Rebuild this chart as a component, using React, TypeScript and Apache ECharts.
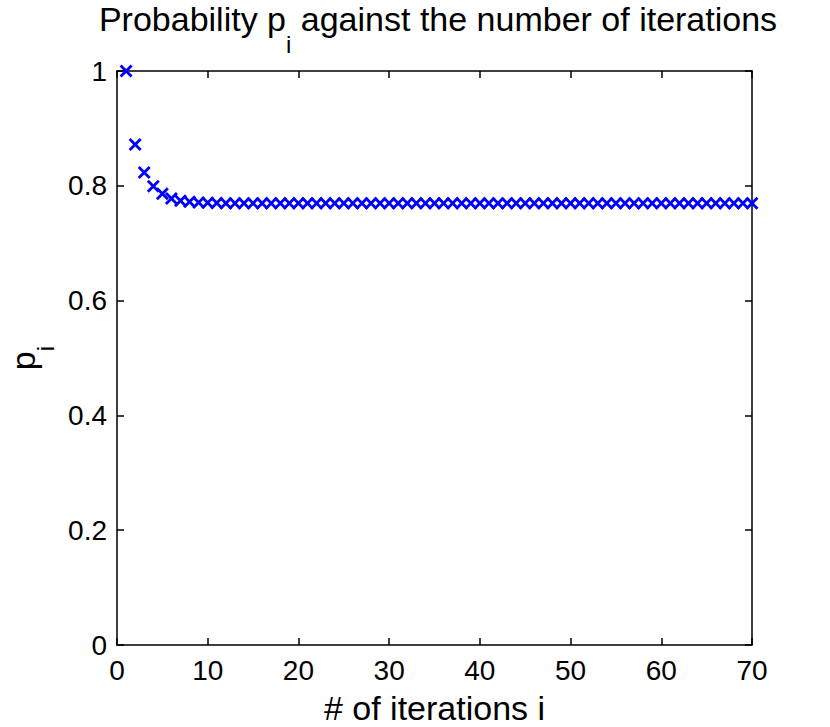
import React, { useEffect, useRef } from "react";
import * as echarts from "echarts";

const iterations: number[] = [
  1, 2, 3, 4, 5, 6, 7, 8, 9, 10, 11, 12, 13, 14, 15, 16, 17, 18, 19, 20,
  21, 22, 23, 24, 25, 26, 27, 28, 29, 30, 31, 32, 33, 34, 35, 36, 37, 38, 39, 40,
  41, 42, 43, 44, 45, 46, 47, 48, 49, 50, 51, 52, 53, 54, 55, 56, 57, 58, 59, 60,
  61, 62, 63, 64, 65, 66, 67, 68, 69, 70,
];

const probability: number[] = [
  1.0, 0.872, 0.823, 0.799, 0.786, 0.778, 0.774, 0.772, 0.771, 0.7705,
  0.7700, 0.7698, 0.7698, 0.7698, 0.7698, 0.7698, 0.7698, 0.7698, 0.7698, 0.7698,
  0.7698, 0.7698, 0.7698, 0.7698, 0.7698, 0.7698, 0.7698, 0.7698, 0.7698, 0.7698,
  0.7698, 0.7698, 0.7698, 0.7698, 0.7698, 0.7698, 0.7698, 0.7698, 0.7698, 0.7698,
  0.7698, 0.7698, 0.7698, 0.7698, 0.7698, 0.7698, 0.7698, 0.7698, 0.7698, 0.7698,
  0.7698, 0.7698, 0.7698, 0.7698, 0.7698, 0.7698, 0.7698, 0.7698, 0.7698, 0.7698,
  0.7698, 0.7698, 0.7698, 0.7698, 0.7698, 0.7698, 0.7698, 0.7698, 0.7698, 0.7698,
];

const FONT = "Liberation Sans";
const CROSS = "path://M0,2 L2,0 L6.5,4.5 L11,0 L13,2 L8.5,6.5 L13,11 L11,13 L6.5,8.5 L2,13 L0,11 L4.5,6.5 Z";

export default function App() {
  const ref = useRef<HTMLDivElement>(null);
  useEffect(() => {
    document.body.style.margin = "0";
    document.body.style.overflow = "hidden";
    if (!ref.current) return;
    const chart = echarts.init(ref.current, null, { renderer: "svg" });
    const data = iterations.map((x, i) => [x, probability[i]]);
    const tickStyle = { show: true, inside: true, length: 7, lineStyle: { color: "#000", width: 1.5 } };
    const lineStyle = { show: true, onZero: false, lineStyle: { color: "#000", width: 1.5 } };
    chart.setOption({
      animation: false,
      backgroundColor: "#fff",
      title: {
        text: "{a|Probability p}{s|i}{a| against the number of iterations}",
        left: 433,
        top: -3,
        textAlign: "center",
        textStyle: {
          rich: {
            a: { fontFamily: FONT, fontSize: 34, fontWeight: "normal", color: "#000", lineHeight: 38, verticalAlign: "top" },
            s: { fontFamily: FONT, fontSize: 24, fontWeight: "normal", color: "#000", lineHeight: 38, padding: [30, 0, 0, 0], verticalAlign: "top" },
          },
        },
      },
      grid: { left: 117, right: 78, top: 71, bottom: 82, containLabel: false, outerBoundsMode: "none" },
      xAxis: [
        {
          type: "value",
          min: 0,
          max: 70,
          interval: 10,
          position: "bottom",
          name: "# of iterations i",
          nameLocation: "middle",
          nameGap: 48,
          nameTextStyle: { fontFamily: FONT, fontSize: 34, lineHeight: 30, color: "#000" },
          axisLine: lineStyle,
          axisTick: tickStyle,
          splitLine: { show: false },
          axisLabel: { fontFamily: FONT, fontSize: 28, color: "#000", margin: 11 },
        },
        {
          type: "value",
          min: 0,
          max: 70,
          interval: 10,
          position: "top",
          axisLine: lineStyle,
          axisTick: tickStyle,
          splitLine: { show: false },
          axisLabel: { show: false },
        },
      ],
      yAxis: [
        {
          type: "value",
          min: 0,
          max: 1,
          interval: 0.2,
          position: "left",
          name: "{a|p}{s|i}",
          nameLocation: "middle",
          nameGap: 73,
          nameRotate: 90,
          nameTextStyle: {
            rich: {
              a: { fontFamily: FONT, fontSize: 34, color: "#000", lineHeight: 34, verticalAlign: "top" },
              s: { fontFamily: FONT, fontSize: 24, color: "#000", lineHeight: 24, padding: [27, 0, 0, 0], verticalAlign: "top" },
            },
          },
          axisLine: lineStyle,
          axisTick: tickStyle,
          splitLine: { show: false },
          axisLabel: { fontFamily: FONT, fontSize: 28, color: "#000", margin: 10 },
        },
        {
          type: "value",
          min: 0,
          max: 1,
          interval: 0.2,
          position: "right",
          axisLine: lineStyle,
          axisTick: tickStyle,
          splitLine: { show: false },
          axisLabel: { show: false },
        },
      ],
      series: [
        {
          type: "scatter",
          data,
          clip: false,
          symbol: CROSS,
          symbolSize: 13,
          itemStyle: { color: "#0000ff", borderWidth: 0, opacity: 1 },
        },
      ],
    });
    return () => chart.dispose();
  }, []);
  return (
    <div
      ref={ref}
      style={{ position: "absolute", left: 0, top: 0, width: 830, height: 727, overflow: "hidden" }}
    />
  );
}
